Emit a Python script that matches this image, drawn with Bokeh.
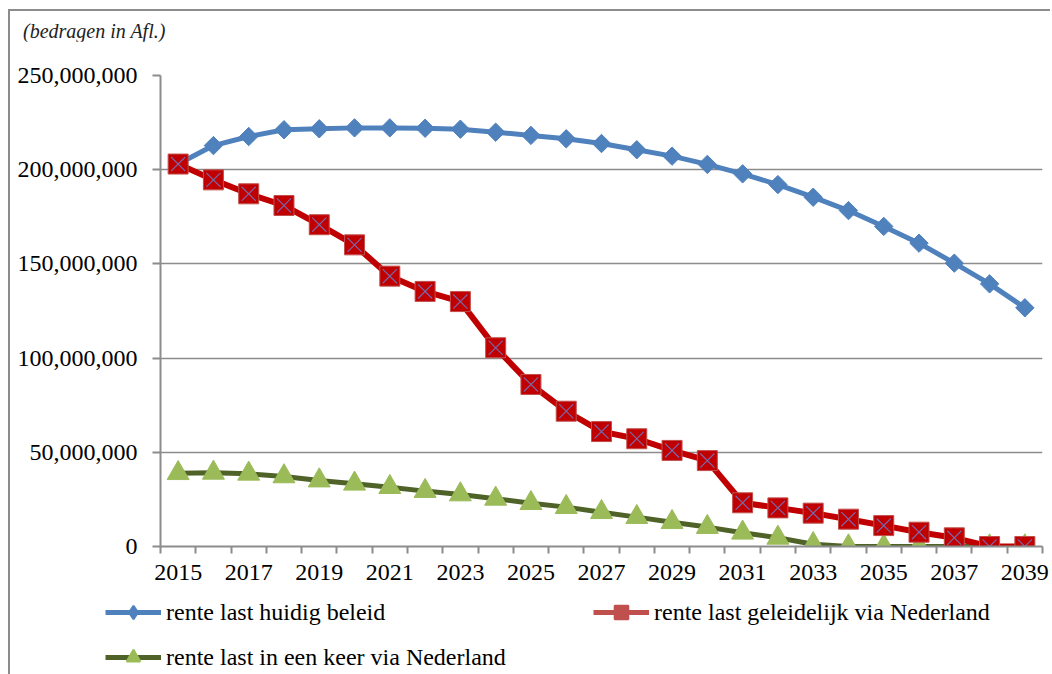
import numpy as np
from bokeh.plotting import figure
from bokeh.layouts import column, row
from bokeh.models import Range1d, FixedTicker, NumeralTickFormatter, Legend, LegendItem, Div
from bokeh.embed import file_html
from bokeh.resources import INLINE

# ---------------- data (Afl., millions) ----------------
years = list(range(2015, 2040))
label_years = list(range(2015, 2040, 2))
y_ticks = [0, 50e6, 100e6, 150e6, 200e6, 250e6]

huidig_beleid_m = [203.0, 212.8, 217.6, 221.2, 221.7, 222.2, 222.2, 222.0, 221.5, 219.9,
                   218.2, 216.4, 213.9, 210.6, 207.2, 202.8, 197.8, 192.1, 185.4, 178.3,
                   169.9, 161.0, 150.4, 139.4, 126.7]
geleidelijk_m = [203.0, 194.6, 187.2, 181.0, 170.8, 160.1, 143.5, 135.4, 130.0, 105.5,
                 86.0, 71.8, 61.0, 57.2, 51.0, 45.6, 23.2, 20.5, 17.7, 14.5,
                 11.1, 7.6, 4.6, 0.0, 0.0]
in_een_keer_m = [38.9, 39.1, 38.6, 37.2, 35.0, 33.3, 31.5, 29.4, 27.6, 25.3,
                 23.0, 20.9, 18.2, 15.6, 12.9, 10.3, 7.3, 4.6, 1.2, 0.0,
                 0.0, 0.0, 0.0, 0.0, 0.0]

series_labels = ["rente last huidig beleid",
                 "rente last geleidelijk via Nederland",
                 "rente last in een keer via Nederland"]
subtitle = "(bedragen in Afl.)"

huidig_beleid = [v * 1e6 for v in huidig_beleid_m]
geleidelijk = [v * 1e6 for v in geleidelijk_m]
in_een_keer = [v * 1e6 for v in in_een_keer_m]
category_edges = [y - 0.5 for y in years] + [years[-1] + 0.5]

FONT = "Liberation Serif"
GRAY = "#8c8c8c"
BLUE = "#4F81BD"
RED = "#C00000"
RED_LEGEND = "#C0504D"
GREEN_LINE = "#4F6228"
GREEN_MARK = "#9BBB59"

# ---------------- subtitle ----------------
title_div = Div(text=subtitle, width=300, height=20,
                styles={"font-family": FONT, "font-style": "italic", "font-size": "20px",
                        "color": "#222222", "line-height": "20px",
                        "padding-left": "8px", "padding-top": "5px"})

# ---------------- main chart ----------------
p = figure(width=1040, height=555, output_backend="svg", toolbar_location=None,
           x_range=Range1d(years[0] - 0.5, years[-1] + 0.5),
           y_range=Range1d(y_ticks[0], y_ticks[-1]),
           min_border_left=150, min_border_right=8, min_border_top=34,
           min_border_bottom=50)
p.outline_line_color = None
p.background_fill_color = "white"
p.border_fill_color = "white"

p.xgrid.grid_line_color = None
p.ygrid.ticker = FixedTicker(ticks=y_ticks)
p.ygrid.grid_line_color = GRAY
p.ygrid.grid_line_width = 1.5

p.yaxis.ticker = FixedTicker(ticks=y_ticks)
p.yaxis.formatter = NumeralTickFormatter(format="0,0")
p.yaxis.axis_line_color = GRAY
p.yaxis.axis_line_width = 2
p.yaxis.major_tick_line_color = GRAY
p.yaxis.major_tick_line_width = 2
p.yaxis.major_tick_out = 8
p.yaxis.major_tick_in = 0
p.yaxis.minor_tick_line_color = None
p.yaxis.major_label_standoff = 15
p.yaxis.major_label_text_font = FONT
p.yaxis.major_label_text_font_size = "24px"
p.yaxis.major_label_text_color = "#000000"

p.xaxis.ticker = FixedTicker(ticks=label_years, minor_ticks=category_edges)
p.xaxis.axis_line_color = GRAY
p.xaxis.axis_line_width = 2
p.xaxis.major_tick_line_color = None
p.xaxis.minor_tick_line_color = GRAY
p.xaxis.minor_tick_line_width = 2
p.xaxis.minor_tick_out = 7
p.xaxis.minor_tick_in = 0
p.xaxis.major_label_standoff = 11
p.xaxis.major_label_text_font = FONT
p.xaxis.major_label_text_font_size = "24px"
p.xaxis.major_label_text_color = "#000000"

p.line(years, in_een_keer, line_color=GREEN_LINE, line_width=5)
p.scatter(years, in_een_keer, marker="triangle", size=22,
          fill_color=GREEN_MARK, line_color=GREEN_MARK)

p.line(years, huidig_beleid, line_color=BLUE, line_width=5)
p.scatter(years, huidig_beleid, marker="square", angle=np.pi / 4, size=13,
          fill_color=BLUE, line_color=BLUE)

p.line(years, geleidelijk, line_color=RED, line_width=6)
p.scatter(years, geleidelijk, marker="square", size=20,
          fill_color=RED, line_color=RED_LEGEND, line_width=1)
p.scatter(years, geleidelijk, marker="x", size=20,
          line_color="#7A67AA", line_width=1.2)

# ---------------- legend strip (series drawn outside its view; only swatches show) ----
pl = figure(width=1040, height=78, output_backend="svg", toolbar_location=None,
            x_range=Range1d(0, 1), y_range=Range1d(0, 1),
            x_axis_type=None, y_axis_type=None,
            min_border_left=0, min_border_right=0, min_border_top=0, min_border_bottom=0)
pl.grid.grid_line_color = None
pl.outline_line_color = None
pl.background_fill_color = "white"
pl.border_fill_color = "white"

lb_line = pl.line(years, huidig_beleid, line_color=BLUE, line_width=5)
lb_mark = pl.scatter(years, huidig_beleid, marker="diamond",
                     fill_color=BLUE, line_color=BLUE, line_width=2)
lr_line = pl.line(years, geleidelijk, line_color=RED_LEGEND, line_width=5)
lr_mark = pl.scatter(years, geleidelijk, marker="square",
                     fill_color=RED_LEGEND, line_color=RED_LEGEND, line_width=2)
lg_line = pl.line(years, in_een_keer, line_color=GREEN_LINE, line_width=5)
lg_mark = pl.scatter(years, in_een_keer, marker="triangle",
                     fill_color=GREEN_MARK, line_color=GREEN_MARK, line_width=2)

legend = Legend(items=[
    LegendItem(label=series_labels[0], renderers=[lb_line, lb_mark]),
    LegendItem(label=series_labels[1], renderers=[lr_line, lr_mark]),
    LegendItem(label=series_labels[2], renderers=[lg_line, lg_mark]),
], location=(95, 0), orientation="horizontal", ncols=2)
legend.padding = 0
legend.margin = 0
legend.spacing = 11
legend.border_line_color = None
legend.background_fill_alpha = 0
legend.glyph_width = 56
legend.glyph_height = 34
legend.label_standoff = 5
legend.label_width = 416
legend.label_text_font = FONT
legend.label_text_font_size = "24px"
legend.label_text_color = "#000000"
legend.label_text_baseline = "middle"
pl.add_layout(legend)

layout = column(title_div, p, row(pl, spacing=0), spacing=0)
layout.styles = {"border-left": "2px solid #8c8c8c", "border-top": "2px solid #8c8c8c",
                 "margin-left": "8px", "margin-top": "9px"}

open("out.html", "w").write(file_html(layout, INLINE))
